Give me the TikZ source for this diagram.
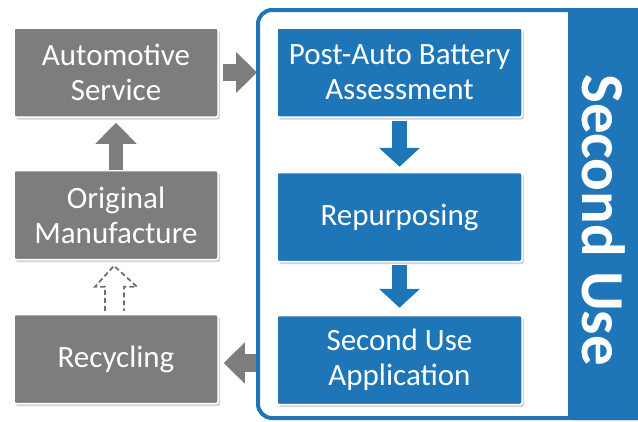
\documentclass[tikz,border=0pt]{standalone}
\usepackage{fontspec}
\setmainfont{Carlito}
\usetikzlibrary{arrows.meta,shadows,calc}
\definecolor{boxgray}{RGB}{125,125,125}
\definecolor{boxblue}{RGB}{30,117,184}
\begin{document}
\begin{tikzpicture}[x=1pt,y=-1pt,
  base box/.style={draw=white, line width=1.5pt, rounded corners=2pt, text=white,
    align=center, minimum width=204pt, minimum height=89pt, inner sep=0pt,
    font=\fontsize{31}{35}\selectfont,
    drop shadow={shadow xshift=2pt, shadow yshift=-2.5pt, opacity=0.35}},
  graybox/.style={base box, fill=boxgray},
  bluebox/.style={base box, fill=boxblue, minimum width=245pt},
  grayarrow/.style={draw=boxgray, -{Triangle[length=21pt,width=40pt]}},
  bluearrow/.style={draw=boxblue, line width=15pt, -{Triangle[length=19pt,width=40pt]}}]
\useasboundingbox (0,0) rectangle (638,421);
% frame
\draw[boxblue, line width=4pt, rounded corners=14pt] (258,10) rectangle (660,418);
\fill[boxblue, rounded corners=5pt] (568,8) rectangle (660,420);
\node[rotate=-90, anchor=base, text=white, font=\bfseries\fontsize{61}{62}\selectfont] (title) at (582,220) {Second Use};
% gray nodes
\node[graybox] (auto) at (116,72.5) {Automotive\\Service};
\node[graybox] (orig) at (116,215) {Original\\Manufacture};
\node[graybox] (recy) at (116,359) {Recycling};
% blue nodes
\node[bluebox] (post) at (399.5,72.5) {Post-Auto Battery\\Assessment};
\node[bluebox] (rep) at (399.5,217) {Repurposing};
\node[bluebox] (sua) at (399.5,360) {Second Use\\Application};
% arrows
\coordinate (frameL) at (257,0);
\draw[grayarrow, line width=17pt, shorten <=4pt] (auto.east) -- (auto.east -| frameL);
\draw[grayarrow, line width=14pt, shorten >=5pt] (orig.north) -- (auto.south);
\draw[bluearrow, shorten <=3pt, shorten >=5pt] (post.south) -- (rep.north);
\draw[bluearrow, shorten <=3pt, shorten >=7pt] (rep.south) -- (sua.north);
\coordinate (la) at ($(sua.west)+(-20,3)$);
\draw[grayarrow, line width=18pt, shorten >=5pt] (la) -- (la -| recy.east);
% dashed hollow arrow
\draw[boxgray!90!black, line width=1.8pt, dash pattern=on 5pt off 3pt, line join=miter]
  ($(recy.north)+(-11,-3)$) -- ++(0,-24) -- ++(-10,0) -- ++(19,-21) -- ++(23,21) -- ++(-13,0) -- ++(0,24);
\end{tikzpicture}
\end{document}
